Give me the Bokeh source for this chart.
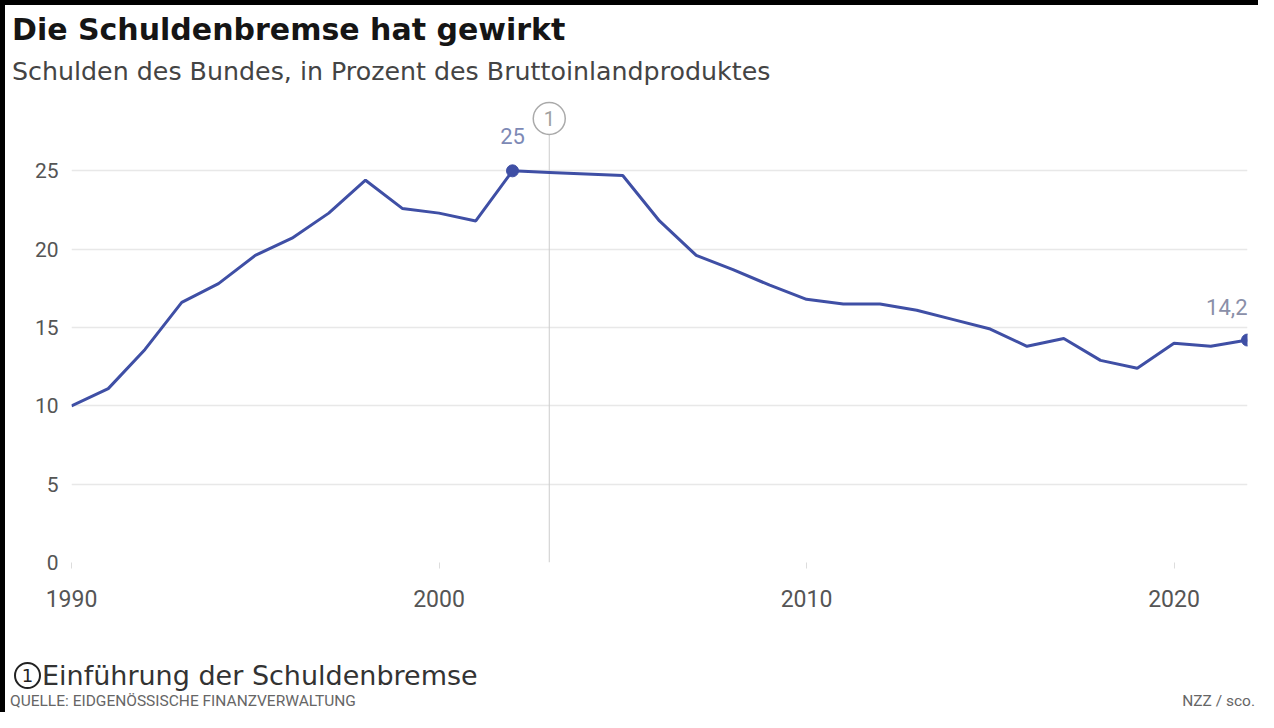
from bokeh.plotting import figure
from bokeh.models import Range1d, FixedTicker, Div
from bokeh.layouts import column, row
from bokeh.core.properties import value
from bokeh.embed import file_html
from bokeh.resources import INLINE

# ---- data ----
years = list(range(1990, 2023))
debt = [10.0, 11.1, 13.6, 16.6, 17.8, 19.6, 20.7, 22.3, 24.4, 22.6,
        22.3, 21.8, 25.0, 24.9, 24.8, 24.7, 21.8, 19.6, 18.7, 17.7,
        16.8, 16.5, 16.5, 16.1, 15.5, 14.9, 13.8, 14.3, 12.9, 12.4,
        14.0, 13.8, 14.2]
highlight_years = [2002, 2022]
event_year = 2003
event_mark = "1"
event_note = "Einführung der Schuldenbremse"
x_ticks = [1990, 2000, 2010, 2020]
y_ticks = [0, 5, 10, 15, 20, 25]
title_text = "Die Schuldenbremse hat gewirkt"
subtitle_text = "Schulden des Bundes, in Prozent des Bruttoinlandproduktes"
source_text = "QUELLE: EIDGENÖSSISCHE FINANZVERWALTUNG"
credit_text = "NZZ / sco."

hl_vals = [debt[years.index(y)] for y in highlight_years]
hl_text = [("%g" % v).replace(".", ",") for v in hl_vals]

# ---- layout ----
BAR = 5
W = 1258 - BAR
TOTAL_H = 712
HEAD_H, PLOT_H = 88, 552
FOOT_H = TOTAL_H - HEAD_H - PLOT_H
FL, FR, FT, FB = 66, 11, 4, 78
X0, X1, Y0, Y1 = 1990, 2022, 0, 30
PPU = (PLOT_H - FT - FB) / (Y1 - Y0)

LINE = "#3f4fa5"
FONT = "Roboto"
TFONT = "DejaVu Sans"

def dy(py):
    return Y0 + (PLOT_H - FB - py) / PPU

left_bar = Div(width=BAR, height=TOTAL_H, margin=0, text="",
               styles={"background-color": "#000000"})

header = Div(width=W, height=HEAD_H, margin=0, text=(
    '<div style="position:relative;width:%dpx;height:%dpx;overflow:hidden;">'
    '<div style="position:absolute;left:0;top:0;width:%dpx;height:5px;background:#000;"></div>'
    '<div style="position:absolute;left:7px;top:15px;white-space:nowrap;'
    'font-family:\'%s\';font-weight:bold;font-size:30px;line-height:30px;color:#151515;">%s</div>'
    '<div style="position:absolute;left:7px;top:59px;white-space:nowrap;'
    'font-family:\'%s\';font-size:25.3px;line-height:25px;color:#444444;">%s</div>'
    '</div>') % (W, HEAD_H, W, TFONT, title_text, TFONT, subtitle_text))

footer = Div(width=W, height=FOOT_H, margin=0, text=(
    '<div style="position:relative;width:%dpx;height:%dpx;overflow:hidden;">'
    '<div style="position:absolute;left:9px;top:22px;width:27px;height:27px;box-sizing:border-box;'
    'border:2px solid #222;border-radius:50%%;text-align:center;'
    'font-family:\'%s\';font-size:18px;line-height:23px;color:#222;">%s</div>'
    '<div style="position:absolute;left:37px;top:21px;white-space:nowrap;'
    'font-family:\'%s\';font-size:27px;line-height:30px;color:#333333;">%s</div>'
    '<div style="position:absolute;left:5px;top:52px;white-space:nowrap;'
    'font-family:\'%s\';font-size:15.5px;line-height:18px;color:#666666;">%s</div>'
    '<div style="position:absolute;right:3px;top:52px;white-space:nowrap;'
    'font-family:\'%s\';font-size:15.5px;line-height:18px;color:#666666;">%s</div>'
    '</div>') % (W, FOOT_H, TFONT, event_mark, TFONT, event_note,
                 FONT, source_text, FONT, credit_text))

p = figure(width=W, height=PLOT_H, output_backend="svg", toolbar_location=None,
           x_range=Range1d(X0, X1), y_range=Range1d(Y0, Y1),
           min_border_left=FL, min_border_right=FR, min_border_top=FT,
           min_border_bottom=FB, outline_line_color=None, margin=0)
p.background_fill_color = "white"
p.border_fill_color = "white"

# axes
p.yaxis.ticker = FixedTicker(ticks=y_ticks)
p.xaxis.ticker = FixedTicker(ticks=x_ticks)
for ax in (p.xaxis, p.yaxis):
    ax.axis_line_color = None
    ax.minor_tick_line_color = None
    ax.major_label_text_font = FONT
    ax.major_label_text_color = "#555555"
p.yaxis.major_label_text_font_size = "21px"
p.xaxis.major_label_text_font_size = "23px"
p.yaxis.major_tick_line_color = None
p.yaxis.major_label_standoff = 7
p.xaxis.major_tick_line_color = "#dddddd"
p.xaxis.major_tick_out = 6
p.xaxis.major_tick_in = 0
p.xaxis.major_label_standoff = 21

p.xgrid.grid_line_color = None
p.ygrid.ticker = FixedTicker(ticks=y_ticks)
p.ygrid.grid_line_color = "#e8e8e8"
p.ygrid.grid_line_width = 1.5

# event marker
circle_y = dy(30)
p.segment(x0=[event_year], y0=[0], x1=[event_year], y1=[circle_y - 16 / PPU],
          line_color="#cccccc", line_width=1)
p.scatter([event_year], [circle_y], size=32, fill_color="white",
          line_color="#aaaaaa", line_width=1.5)
p.text([event_year], [circle_y], text=[event_mark], text_align="center",
       text_baseline="middle", text_font=value(FONT), text_font_size="20px",
       text_color="#a0a0a0")

# series
p.line(years, debt, line_color=LINE, line_width=3)
p.scatter(highlight_years, hl_vals, size=12, color=LINE)
p.text([highlight_years[0]], [hl_vals[0]], text=[hl_text[0]], text_align="center",
       text_baseline="middle", y_offset=-35, text_font=value(FONT),
       text_font_size="22px", text_color="#7d89b5")
p.text([highlight_years[1]], [hl_vals[1]], text=[hl_text[1]], text_align="right",
       text_baseline="middle", y_offset=-33, text_font=value(FONT),
       text_font_size="22px", text_color="#8a8fa8")

layout = row(left_bar, column(header, p, footer, spacing=0), spacing=0)
open("out.html", "w").write(file_html(layout, INLINE))
